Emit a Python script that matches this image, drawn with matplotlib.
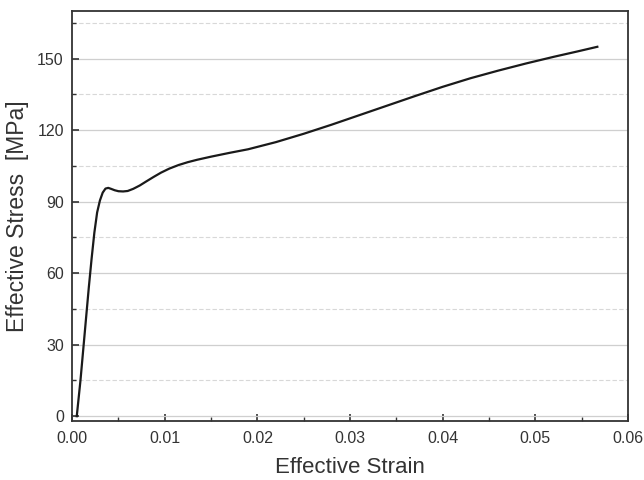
import matplotlib.pyplot as plt
from matplotlib.ticker import MultipleLocator

plt.rcParams["font.family"] = ["Liberation Sans", "DejaVu Sans"]

# strain / stress
strain = [0.0005, 0.0009, 0.0012, 0.0015, 0.0018, 0.0021, 0.0024, 0.0027,
          0.0030, 0.0033, 0.0036, 0.0039, 0.0042, 0.0046, 0.0050, 0.0055,
          0.0060, 0.0066, 0.0073, 0.0080, 0.0088, 0.0096, 0.0105, 0.0115,
          0.0125, 0.0135, 0.0150, 0.0170, 0.0190, 0.0220, 0.0250, 0.0280,
          0.0310, 0.0340, 0.0370, 0.0400, 0.0430, 0.0460, 0.0490, 0.0520,
          0.0545, 0.0567]
stress = [0.0, 15.0, 28.0, 41.0, 54.0, 66.0, 77.0, 85.5,
          90.5, 93.8, 95.5, 95.8, 95.4, 94.8, 94.4, 94.3,
          94.5, 95.4, 96.8, 98.5, 100.4, 102.2, 103.9, 105.4,
          106.6, 107.6, 108.9, 110.5, 112.0, 115.0, 118.5, 122.3,
          126.3, 130.3, 134.3, 138.2, 141.8, 145.0, 148.0, 150.8,
          153.0, 155.0]

fig = plt.figure(figsize=(6.44, 4.8), dpi=100)
ax = fig.add_axes([0.112, 0.123, 0.863, 0.854])

ax.plot(strain, stress, color="#1a1a1a", linewidth=1.6)

ax.set_xlim(0, 0.06)
ax.set_ylim(-2, 170)
ax.xaxis.set_major_locator(MultipleLocator(0.01))
ax.xaxis.set_minor_locator(MultipleLocator(0.005))
ax.yaxis.set_major_locator(MultipleLocator(30))
ax.yaxis.set_minor_locator(MultipleLocator(15))
ax.xaxis.set_major_formatter(plt.FuncFormatter(lambda v, p: f"{v:.2f}"))

ax.grid(True, axis="y", which="major", color="#cfcfcf", linewidth=0.9)
ax.grid(True, axis="y", which="minor", color="#d8d8d8", linewidth=0.8,
        linestyle=(0, (4, 2)))
ax.set_axisbelow(True)

ax.tick_params(which="both", direction="in", colors="#333333",
               labelcolor="#333333", labelsize=11.5)
ax.tick_params(which="major", length=5, width=1.2)
ax.tick_params(which="minor", length=3, width=1.0)
ax.tick_params(axis="x", pad=7)
ax.tick_params(axis="y", pad=6)

for s in ax.spines.values():
    s.set_linewidth(1.3)
    s.set_color("#333333")

ax.set_xlabel("Effective Strain", fontsize=16, color="#333333", labelpad=8)
ax.set_ylabel("Effective Stress  [MPa]", fontsize=16.5, color="#333333",
              labelpad=6)

fig.savefig("out.png", dpi=100)
